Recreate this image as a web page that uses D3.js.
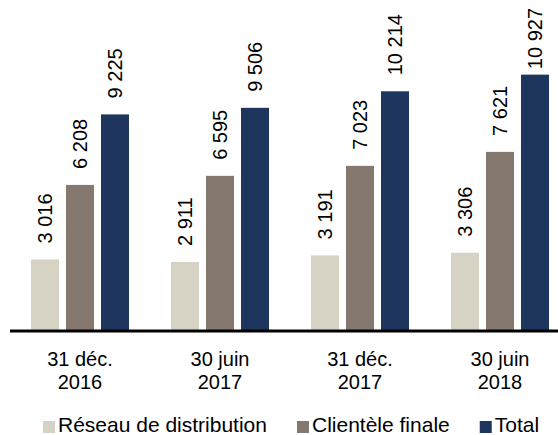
<!DOCTYPE html>
<html><head><meta charset="utf-8">
<script src="https://cdn.jsdelivr.net/npm/d3@7/dist/d3.min.js"></script>
<style>
html,body{margin:0;padding:0;background:#fff;}
svg{display:block;font-family:"Liberation Sans",Arial,sans-serif;}
</style></head>
<body>
<svg id="c" width="558" height="435"></svg>
<script>
const categories = [["31 déc.", "2016"], ["30 juin", "2017"], ["31 déc.", "2017"], ["30 juin", "2018"]];
const seriesNames = ["Réseau de distribution", "Clientèle finale", "Total"];
const reseau = [3016, 2911, 3191, 3306];
const clientele = [6208, 6595, 7023, 7621];
const total = [9225, 9506, 10214, 10927];
const valueLabels = [["3 016","2 911","3 191","3 306"],["6 208","6 595","7 023","7 621"],["9 225","9 506","10 214","10 927"]];
const colors = ["#D6D3C5", "#84786F", "#1E365E"];

const series = [reseau, clientele, total];
const svg = d3.select("#c");
const baseY = 330;
const x0 = d3.scaleBand().domain(d3.range(categories.length)).range([10, 570]).paddingInner(0).paddingOuter(0);
const x1 = d3.scaleBand().domain(d3.range(3)).range([21, 119]).paddingInner(0.2).paddingOuter(0);
const y = d3.scaleLinear().domain([0, 14120]).range([baseY, 0]);

const g = svg.append("g");
series.forEach((vals, si) => {
  vals.forEach((v, ci) => {
    const bx = x0(ci) + x1(si);
    g.append("rect").attr("x", bx).attr("y", y(v)).attr("width", x1.bandwidth()).attr("height", baseY - y(v)).attr("fill", colors[si]);
  });
});

// value labels
series.forEach((vals, si) => {
  vals.forEach((v, ci) => {
    const cx = x0(ci) + x1(si) + x1.bandwidth() / 2;
    const t = g.append("text").attr("font-size", 20).attr("fill", "#000").text(valueLabels[si][ci]);
    const len = t.node().getComputedTextLength();
    let start = y(v) - 16;
    if (start - len < 8) start = 8 + len;
    t.attr("transform", `translate(${cx + 7},${start}) rotate(-90)`);
  });
});

// axis line
svg.append("line").attr("x1", 10).attr("x2", 558).attr("y1", baseY + 1).attr("y2", baseY + 1).attr("stroke", "#000").attr("stroke-width", 3);

// category labels
categories.forEach((c, ci) => {
  const cx = x0(ci) + x0.bandwidth() / 2;
  const t = svg.append("text").attr("font-size", 20).attr("text-anchor", "middle").attr("fill", "#000");
  t.append("tspan").attr("x", cx).attr("y", 366).text(c[0]);
  t.append("tspan").attr("x", cx).attr("y", 389).text(c[1]);
});

// legend
let lx = 43;
seriesNames.forEach((n, i) => {
  svg.append("rect").attr("x", lx).attr("y", 421).attr("width", 12).attr("height", 12).attr("fill", colors[i]);
  const t = svg.append("text").attr("x", lx + 15).attr("y", 432).attr("font-size", 21).attr("fill", "#000").text(n);
  lx += 15 + t.node().getComputedTextLength() + 30;
});
</script>
</body></html>
